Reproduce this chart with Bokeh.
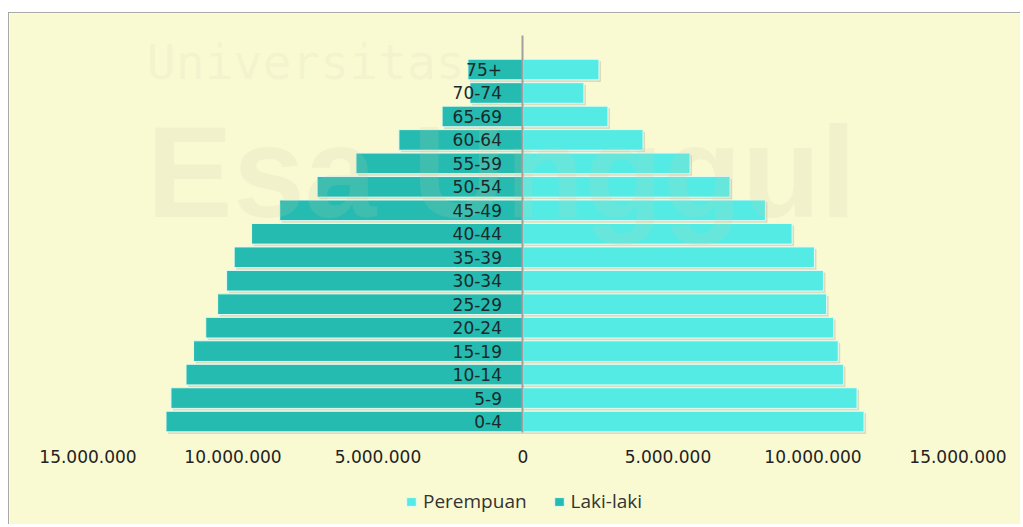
from bokeh.plotting import figure
from bokeh.models import (Range1d, FixedTicker, CustomJSTickFormatter, Legend,
                          LegendItem, ColumnDataSource)
from bokeh.core.properties import value
from bokeh.embed import file_html
from bokeh.resources import INLINE

# ---- data ----
age_groups = ["0-4", "5-9", "10-14", "15-19", "20-24", "25-29", "30-34", "35-39",
              "40-44", "45-49", "50-54", "55-59", "60-64", "65-69", "70-74", "75+"]
perempuan = [11.76e6, 11.52e6, 11.05e6, 10.87e6, 10.71e6, 10.47e6, 10.36e6, 10.05e6,
             9.28e6, 8.36e6, 7.14e6, 5.76e6, 4.14e6, 2.93e6, 2.10e6, 2.62e6]
laki_laki = [12.31e6, 12.14e6, 11.62e6, 11.36e6, 10.94e6, 10.53e6, 10.22e6, 9.96e6,
             9.36e6, 8.39e6, 7.10e6, 5.76e6, 4.28e6, 2.79e6, 1.83e6, 1.90e6]
tick_values = [-15e6, -10e6, -5e6, 0, 5e6, 10e6, 15e6]
series_names = ["Perempuan", "Laki-laki"]

BG = "#fafad2"
C_P = "#55ebe5"
C_L = "#25bbb1"

rows = list(range(len(age_groups)))
BAR_H = 0.88
bar_bottom = -BAR_H / 2 - 0.03
bar_top = len(rows) - 1 + 1.45

src = ColumnDataSource(dict(
    y=rows,
    age=age_groups,
    p=perempuan,
    l=[-v for v in laki_laki],
    p_sh=[v + 70000 for v in perempuan],
    l_sh=[-v + 70000 for v in laki_laki],
    y_sh=[r - 0.09 for r in rows],
    zero=[0] * len(rows),
))

p = figure(width=1012, height=512, output_backend="svg", toolbar_location=None,
           x_range=Range1d(-17.707e6, 17.19e6), y_range=Range1d(-4.43, bar_top + 0.937),
           min_border_left=0, min_border_right=0, min_border_top=0,
           min_border_bottom=0)
p.styles = {"border-top": "1px solid #a8a8a8", "border-left": "1px solid #a8a8a8",
            "margin-top": "12px", "margin-left": "8px"}
p.background_fill_color = BG
p.border_fill_color = BG
p.outline_line_color = None
p.xgrid.visible = False
p.ygrid.visible = False

# watermark
p.text(x=[-12.97e6], y=[15.31], text=["Universitas"], text_font=value("DejaVu Sans Mono"),
       text_font_size="48px", text_color="#c8ccb0", text_alpha=0.15,
       text_baseline="alphabetic", level="underlay")

# shadows
p.hbar(y="y_sh", left="zero", right="p_sh", height=BAR_H, source=src,
       fill_color="#b9b9a0", fill_alpha=0.45, line_color=None)
p.hbar(y="y_sh", left="l_sh", right="zero", height=BAR_H, source=src,
       fill_color="#b9b9a0", fill_alpha=0.45, line_color=None)

rp = p.hbar(y="y", left="zero", right="p", height=BAR_H, source=src,
            fill_color=C_P, line_color="#e6faf4", line_width=1)
rl = p.hbar(y="y", left="l", right="zero", height=BAR_H, source=src,
            fill_color=C_L, line_color="#e6faf4", line_width=1)

p.text(x=[-12.97e6], y=[10.62], text=["Esa Unggul"], text_font=value("Liberation Sans"),
       text_font_style="bold", text_font_size="129px", text_color="#c8ccb0",
       text_alpha=0.16, text_baseline="alphabetic")

p.text(x="zero", y="y", text="age", source=src, x_offset=-21,
       text_align="right", text_baseline="middle", text_font=value("DejaVu Sans"),
       text_font_size="17px", text_color="#1a2a2a")

# vertical zero axis (library axis at fixed location)
p.yaxis.fixed_location = 0
p.yaxis.bounds = (bar_bottom, bar_top)
p.yaxis.ticker = FixedTicker(ticks=[])
p.yaxis.axis_line_color = "#a0a0a0"
p.yaxis.axis_line_width = 2
p.yaxis.major_tick_line_color = None
p.yaxis.minor_tick_line_color = None

# value axis under the bars
p.xaxis.fixed_location = bar_bottom
p.xaxis.ticker = FixedTicker(ticks=tick_values)
p.xaxis.formatter = CustomJSTickFormatter(code="""
    const s = Math.round(Math.abs(tick)).toString();
    return s.replace(/\\B(?=(\\d{3})+(?!\\d))/g, ".");
""")
p.xaxis.axis_line_color = None
p.xaxis.major_tick_line_color = None
p.xaxis.minor_tick_line_color = None
p.xaxis.major_label_standoff = 11
p.xaxis.major_label_text_font = "DejaVu Sans"
p.xaxis.major_label_text_font_size = "17px"
p.xaxis.major_label_text_color = "#222222"

legend = Legend(items=[LegendItem(label=series_names[0], renderers=[rp]),
                       LegendItem(label=series_names[1], renderers=[rl])],
                orientation="horizontal", location=(396, 11),
                background_fill_alpha=0, border_line_color=None,
                label_text_font="Open Sans", label_text_font_size="19px",
                label_text_color="#333333", glyph_width=12, glyph_height=11,
                label_standoff=6, spacing=26, padding=4, margin=0)
p.add_layout(legend, "center")

open("out.html", "w").write(file_html(p, INLINE))
